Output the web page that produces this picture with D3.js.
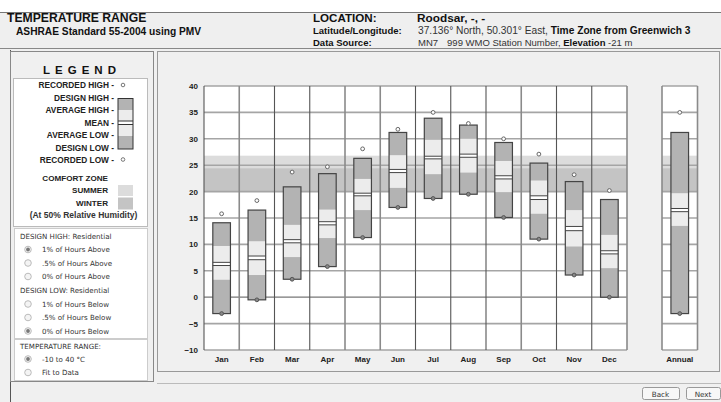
<!DOCTYPE html>
<html><head><meta charset="utf-8">
<script src="https://cdn.jsdelivr.net/npm/d3@7/dist/d3.min.js"></script>
<style>
html,body{margin:0;padding:0;background:#fff;}
svg{display:block;font-family:"Liberation Sans",Arial,sans-serif;}
</style></head><body>
<svg id="c" width="721" height="402"></svg>
<script>
// ---- data ----
const months = ["Jan","Feb","Mar","Apr","May","Jun","Jul","Aug","Sep","Oct","Nov","Dec"];
const recordedHigh = [15.8,18.3,23.7,24.7,28.1,31.8,35.0,32.9,30.0,27.1,23.2,20.2];
const designHigh   = [14.1,16.5,20.9,23.4,26.3,31.2,33.9,32.6,29.3,25.4,21.9,18.5];
const averageHigh  = [9.7,10.6,13.7,16.6,22.4,26.9,29.8,30.0,25.8,22.1,16.5,11.8];
const meanUpper    = [6.6,7.8,10.9,14.3,19.7,24.2,26.7,27.1,23.0,19.2,13.4,8.8];
const meanLower    = [6.0,7.1,10.3,13.7,19.2,23.6,26.2,26.5,22.4,18.5,12.6,8.2];
const averageLow   = [3.3,4.2,7.6,11.2,16.5,20.7,23.3,23.6,19.9,15.8,9.6,5.5];
const designLow    = [-3.1,-0.5,3.4,5.8,11.3,17.0,18.7,19.5,15.1,11.0,4.2,0.0];
const recordedLow  = [-3.1,-0.5,3.4,5.8,11.3,17.0,18.7,19.5,15.1,11.0,4.2,0.0];
const annualLabel = ["Annual"];
const annualValues = {recordedHigh:35.0, designHigh:31.2, averageHigh:19.7, meanUpper:16.8, meanLower:16.2, averageLow:13.5, designLow:-3.1, recordedLow:-3.1};
const summerZone = [23.5, 26.8];
const winterZone = [20.1, 24.4];
const yTicks = [40,35,30,25,20,15,10,5,0,-5,-10];
const yDomain = [-10, 40];

const legendItems = ["RECORDED HIGH -","DESIGN HIGH -","AVERAGE HIGH -","MEAN -","AVERAGE LOW -","DESIGN LOW -","RECORDED LOW -"];
const designHighOptions = ["1% of Hours Above",".5% of Hours Above","0% of Hours Above"];
const designLowOptions = ["1% of Hours Below",".5% of Hours Below","0% of Hours Below"];
const rangeOptions = ["-10 to 40 \u00B0C","Fit to Data"];

// ---- drawing ----
const svg = d3.select("#c");
const DARK = "#b3b3b3", LIGHT = "#ececec", SUMMER = "#dcdcdc", WINTER = "#c4c4c4";
const lightDividers = [1,4,5,9,12]; // vertical month dividers drawn lighter

svg.append("rect").attr("width",721).attr("height",402).attr("fill","#fff");
// header
svg.append("rect").attr("x",0).attr("y",12).attr("width",721).attr("height",37).attr("fill","#efefef");
svg.append("line").attr("x1",0).attr("x2",721).attr("y1",12.5).attr("y2",12.5).attr("stroke","#777");
svg.append("line").attr("x1",0).attr("x2",721).attr("y1",48.5).attr("y2",48.5).attr("stroke","#888");
const hdr = svg.append("g").attr("fill","#111");
hdr.append("text").attr("x",7).attr("y",22).attr("font-size",12.2).attr("font-weight","bold").text("TEMPERATURE RANGE");
hdr.append("text").attr("x",16).attr("y",35).attr("font-size",10.2).attr("font-weight","bold").text("ASHRAE Standard 55-2004 using PMV");
hdr.append("text").attr("x",313).attr("y",22).attr("font-size",11.6).attr("font-weight","bold").text("LOCATION:");
hdr.append("text").attr("x",417).attr("y",22).attr("font-size",11.8).attr("font-weight","bold").text("Roodsar, -, -");
hdr.append("text").attr("x",313).attr("y",34).attr("font-size",9.5).attr("font-weight","bold").text("Latitude/Longitude:");
const ll = hdr.append("text").attr("x",418).attr("y",34).attr("font-size",10.2);
ll.append("tspan").attr("fill","#333").text("37.136\u00B0 North, 50.301\u00B0 East, ");
ll.append("tspan").attr("font-weight","bold").text("Time Zone from Greenwich 3");
hdr.append("text").attr("x",313).attr("y",46).attr("font-size",9.5).attr("font-weight","bold").text("Data Source:");
const ds = hdr.append("text").attr("x",418).attr("y",46).attr("font-size",9.5);
ds.append("tspan").attr("fill","#333").text("MN7");
ds.append("tspan").attr("fill","#333").attr("dx",9).text("999 WMO Station Number, ");
ds.append("tspan").attr("font-weight","bold").text("Elevation");
ds.append("tspan").attr("fill","#333").text(" -21 m");

// left panel
svg.append("rect").attr("x",0).attr("y",49).attr("width",721).attr("height",353).attr("fill","#f0f0f0");
svg.append("line").attr("x1",10.5).attr("x2",10.5).attr("y1",50).attr("y2",402).attr("stroke","#555");
svg.append("rect").attr("x",10.5).attr("y",51.5).attr("width",143).attr("height",330).attr("fill","#f0f0f0").attr("stroke","#888");
svg.append("text").attr("x",82).attr("y",74).attr("text-anchor","middle").attr("font-size",11.5).attr("font-weight","bold")
  .attr("letter-spacing",5).attr("fill","#111").text("LEGEND");
svg.append("rect").attr("x",13.5).attr("y",78.5).attr("width",134).attr("height",148).attr("fill","#fff").attr("stroke","#bbb");
const legY = d3.scalePoint().domain(legendItems).range([85,160]);
svg.append("g").selectAll("text").data(legendItems).join("text")
  .attr("x",114).attr("y",d=>legY(d)+3).attr("text-anchor","end").attr("font-size",8.3).attr("font-weight","bold")
  .attr("fill","#222").text(d=>d);
// legend box
const lb = svg.append("g");
const lbx = 118, lbw = 15;
lb.append("rect").attr("x",lbx).attr("y",98.5).attr("width",lbw).attr("height",50.5).attr("fill",DARK);
lb.append("rect").attr("x",lbx).attr("y",110).attr("width",lbw).attr("height",26).attr("fill",LIGHT);
lb.append("rect").attr("x",lbx).attr("y",121).attr("width",lbw).attr("height",3.5).attr("fill","#fff");
lb.append("line").attr("x1",lbx).attr("x2",lbx+lbw).attr("y1",121).attr("y2",121).attr("stroke","#333");
lb.append("line").attr("x1",lbx).attr("x2",lbx+lbw).attr("y1",124.5).attr("y2",124.5).attr("stroke","#333");
lb.append("rect").attr("x",lbx).attr("y",98.5).attr("width",lbw).attr("height",50.5).attr("fill","none").attr("stroke","#333");
lb.append("circle").attr("cx",123).attr("cy",85).attr("r",1.8).attr("fill","#fff").attr("stroke","#777");
lb.append("circle").attr("cx",123).attr("cy",159.5).attr("r",1.8).attr("fill","#fff").attr("stroke","#777");
svg.append("text").attr("x",108).attr("y",181).attr("text-anchor","end").attr("font-size",8.1).attr("font-weight","bold").attr("fill","#222").text("COMFORT ZONE");
svg.append("text").attr("x",108).attr("y",193).attr("text-anchor","end").attr("font-size",8.1).attr("font-weight","bold").attr("fill","#222").text("SUMMER");
svg.append("text").attr("x",108).attr("y",205.5).attr("text-anchor","end").attr("font-size",8.1).attr("font-weight","bold").attr("fill","#222").text("WINTER");
svg.append("rect").attr("x",118).attr("y",185).attr("width",15).attr("height",11).attr("fill",SUMMER);
svg.append("rect").attr("x",118).attr("y",197.5).attr("width",15).attr("height",12).attr("fill",WINTER);
svg.append("text").attr("x",83.5).attr("y",218).attr("text-anchor","middle").attr("font-size",8.5).attr("font-weight","bold").attr("fill","#333").text("(At 50% Relative Humidity)");

// options
svg.append("rect").attr("x",14.5).attr("y",228.5).attr("width",133).attr("height",110).attr("fill","#fff").attr("stroke","#ccc");
svg.append("rect").attr("x",14.5).attr("y",339.5).attr("width",133).attr("height",41).attr("fill","#fff").attr("stroke","#ccc");
function optText(x,y,t){svg.append("text").attr("x",x).attr("y",y).attr("fill","#333").attr("font-family","'DejaVu Sans',sans-serif").attr("font-size",7.1).text(t);}
function radio(y,t,sel){
  svg.append("circle").attr("cx",28).attr("cy",y-2.5).attr("r",3.3).attr("fill","#f4f4f4").attr("stroke","#bbb");
  if(sel) svg.append("circle").attr("cx",28).attr("cy",y-2.5).attr("r",1.9).attr("fill","#777");
  optText(42,y,t);
}
optText(20,238.5,"DESIGN HIGH:  Residential");
const optY1 = d3.scalePoint().domain(designHighOptions).range([252,279]);
designHighOptions.forEach((t,i)=>radio(optY1(t),t,i===0));
optText(20,292.5,"DESIGN LOW:  Residential");
const optY2 = d3.scalePoint().domain(designLowOptions).range([306.5,333.5]);
designLowOptions.forEach((t,i)=>radio(optY2(t),t,i===2));
optText(20,348.5,"TEMPERATURE RANGE:");
const optY3 = d3.scalePoint().domain(rangeOptions).range([361.5,375]);
rangeOptions.forEach((t,i)=>radio(optY3(t),t,i===0));

// main panel
svg.append("rect").attr("x",157.5).attr("y",51.5).attr("width",562).attr("height",320).attr("fill","#f0f0f0").attr("stroke","#999");
svg.append("line").attr("x1",157).attr("x2",721).attr("y1",383.5).attr("y2",383.5).attr("stroke","#bbb");
function button(x,w,t){
  svg.append("rect").attr("x",x+0.5).attr("y",387.5).attr("width",w).attr("height",12).attr("rx",2).attr("fill","#f7f7f7").attr("stroke","#999");
  svg.append("text").attr("x",x+w/2).attr("y",396.5).attr("text-anchor","middle").attr("font-size",7.2).attr("fill","#333").attr("font-family","'DejaVu Sans',sans-serif").text(t);
}
button(642,37,"Back");
button(686,34,"Next");

// scales
const y = d3.scaleLinear().domain(yDomain).range([350,86]);
const x = d3.scaleBand().domain(months).range([204,627]);
const xa = d3.scaleBand().domain(annualLabel).range([662,697.5]);
const boxW = x.bandwidth()*0.5;

function plotArea(scale, lightIdx){
  const [x0,x1] = scale.range();
  const g = svg.append("g");
  g.append("rect").attr("x",x0).attr("y",y(40)).attr("width",x1-x0).attr("height",y(-10)-y(40)).attr("fill","#fff");
  g.append("rect").attr("x",x0).attr("y",y(summerZone[1])).attr("width",x1-x0).attr("height",y(summerZone[0])-y(summerZone[1])).attr("fill",SUMMER);
  g.append("rect").attr("x",x0).attr("y",y(winterZone[1])).attr("width",x1-x0).attr("height",y(winterZone[0])-y(winterZone[1])).attr("fill",WINTER);
  g.selectAll("line.h").data(yTicks).join("line").attr("class","h")
    .attr("x1",x0).attr("x2",x1).attr("y1",d=>y(d)).attr("y2",d=>y(d))
    .attr("stroke",d=>d===0?"#777":"#a5a5a5").attr("stroke-width",d=>d===0?1.2:1.6);
  const bounds = scale.domain().map(d=>scale(d)).concat([x1]);
  g.selectAll("line.v").data(bounds).join("line").attr("class","v")
    .attr("x1",d=>d).attr("x2",d=>d).attr("y1",y(40)).attr("y2",y(-10))
    .attr("stroke",(d,i)=>lightIdx.includes(i)?"#8a8a8a":"#555").attr("stroke-width",(d,i)=>lightIdx.includes(i)?1.6:1.1);
}
plotArea(x, lightDividers);
plotArea(xa, [0,1]);

function drawBox(cx, d){
  const g = svg.append("g");
  const x0 = cx - boxW/2;
  g.append("rect").attr("x",x0).attr("y",y(d.designHigh)).attr("width",boxW).attr("height",y(d.designLow)-y(d.designHigh)).attr("fill",DARK);
  g.append("rect").attr("x",x0).attr("y",y(d.averageHigh)).attr("width",boxW).attr("height",y(d.averageLow)-y(d.averageHigh)).attr("fill",LIGHT);
  g.append("rect").attr("x",x0).attr("y",y(d.meanUpper)).attr("width",boxW).attr("height",y(d.meanLower)-y(d.meanUpper)).attr("fill","#fff");
  [d.meanUpper,d.meanLower].forEach(v=>g.append("line").attr("x1",x0).attr("x2",x0+boxW).attr("y1",y(v)).attr("y2",y(v)).attr("stroke","#444").attr("stroke-width",1));
  g.append("rect").attr("x",x0).attr("y",y(d.designHigh)).attr("width",boxW).attr("height",y(d.designLow)-y(d.designHigh)).attr("fill","none").attr("stroke","#444").attr("stroke-width",1.2);
  g.append("circle").attr("cx",cx).attr("cy",y(d.recordedHigh)).attr("r",1.9).attr("fill","#fff").attr("stroke","#666");
  g.append("circle").attr("cx",cx).attr("cy",y(d.recordedLow)).attr("r",1.9).attr("fill","#888").attr("stroke","#555");
}
months.forEach((m,i)=>drawBox(x(m)+x.bandwidth()/2, {
  recordedHigh:recordedHigh[i], designHigh:designHigh[i], averageHigh:averageHigh[i],
  meanUpper:meanUpper[i], meanLower:meanLower[i], averageLow:averageLow[i],
  designLow:designLow[i], recordedLow:recordedLow[i]}));
drawBox(xa(annualLabel[0])+xa.bandwidth()/2, annualValues);

// axes
const yAxis = svg.append("g").attr("transform","translate(204,0)")
  .call(d3.axisLeft(y).tickValues(yTicks).tickSize(0).tickPadding(6));
yAxis.select(".domain").remove();
yAxis.selectAll("text").attr("font-size",8).attr("font-weight","bold").attr("fill","#222").attr("font-family","'Liberation Sans',Arial,sans-serif");
[x,xa].forEach(s=>{
  const ax = svg.append("g").attr("transform","translate(0,350)")
    .call(d3.axisBottom(s).tickSize(0).tickPadding(6));
  ax.select(".domain").remove();
  ax.selectAll("text").attr("font-size",8).attr("font-weight","bold").attr("fill","#222").attr("font-family","'Liberation Sans',Arial,sans-serif");
});
</script>
</body></html>
